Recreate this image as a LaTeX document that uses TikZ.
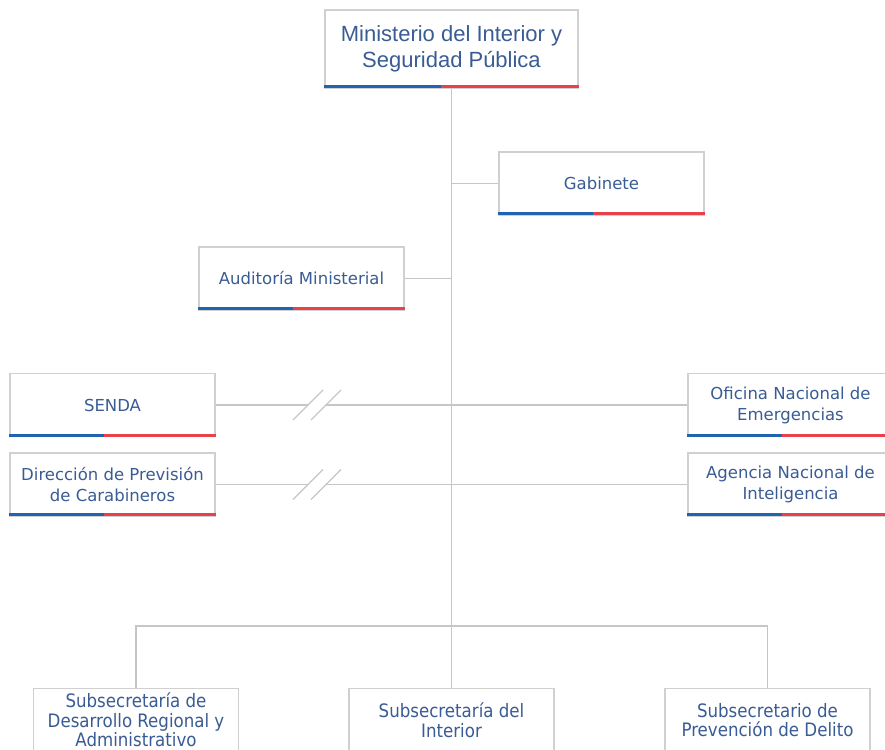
\documentclass[tikz,border=0pt]{standalone}
\usepackage{fontspec}
\setmainfont{DejaVu Sans}
\newfontfamily\topfont{Liberation Sans}
\newfontfamily\condfont{DejaVu Sans Condensed}
\usepackage{xcolor}
\usetikzlibrary{calc}

\definecolor{textblue}{HTML}{3A5C94}
\definecolor{barblue}{HTML}{1F64B0}
\definecolor{barred}{HTML}{E8414B}
\definecolor{boxgray}{HTML}{D0D0D0}
\definecolor{linegray}{HTML}{C6C6C6}

\tikzset{
  unitbox/.style={draw=boxgray, line width=1.3pt, fill=white, text=textblue,
    align=center, inner sep=0pt, minimum width=205pt, minimum height=63pt,
    font=\fontsize{16.5}{21}\selectfont},
  subbox/.style={unitbox, anchor=north, font=\fontsize{18.5}{19.5}\condfont},
  link/.style={draw=linegray, line width=1.6pt},
  cutmark/.style={draw=linegray, line width=1.1pt}
}

\begin{document}
\begin{tikzpicture}[x=1pt,y=-1pt]
\useasboundingbox (0,0) rectangle (885,749);

\node[unitbox, minimum width=253pt, minimum height=78pt,
  font=\fontsize{22}{26}\topfont] (min) at (451.5,49)
  {Ministerio del Interior y\\Seguridad Pública};

\node[unitbox] (gab) at (601.5,183.5) {Gabinete};
\node[unitbox] (aud) at (301.5,278.5) {Auditoría Ministerial};

\node[unitbox] (senda) at (112.5,405) {SENDA};
\node[unitbox] (dipreca) at (112.5,484.5) {Dirección de Previsión\\de Carabineros};
\node[unitbox] (onemi) at (790.5,405) {Oficina Nacional de\\Emergencias};
\node[unitbox] (ani) at (790.5,484.5) {Agencia Nacional de\\Inteligencia};

\node[subbox] (subdere) at (136,688) {Subsecretaría de\\Desarrollo Regional y\\Administrativo};
\node[subbox] (subint) at (451.5,688) {Subsecretaría del\\Interior};
\node[subbox] (subprev) at (767.5,688) {Subsecretario de\\Prevención de Delito};

% bottom bars, blue and red
\foreach \n in {min,gab,aud,senda,dipreca,onemi,ani}{
  \fill[barblue] ($(\n.south west)+(0,0.4pt)$) rectangle ($(\n.south west)!0.46!(\n.south east)+(0,3.2pt)$);
  \fill[barred] ($(\n.south west)!0.46!(\n.south east)+(0,0.4pt)$) rectangle ($(\n.south east)+(0,3.2pt)$);
}

% trunk
\draw[link] (min) -- (subint);
\draw[link] (gab) -- (gab -| min);
\draw[link] (aud) -- (aud -| min);

% links with break marks
\coordinate (cut1a) at (308,405);
\coordinate (cut1b) at (326,405);
\coordinate (cut2a) at (308,484.5);
\coordinate (cut2b) at (326,484.5);
\draw[link] (senda) -- (cut1a);
\draw[link] (cut1b) -- (onemi);
\draw[link] (dipreca) -- (cut2a);
\draw[link] (cut2b) -- (ani);
\foreach \c in {cut1a,cut1b,cut2a,cut2b}
  \draw[cutmark] ($(\c)+(-15,15)$) -- ($(\c)+(15,-15)$);

% subsecretarias
\coordinate (bus) at (451.5,626);
\draw[link] (subdere) |- (bus) -| (subprev);
\end{tikzpicture}
\end{document}
